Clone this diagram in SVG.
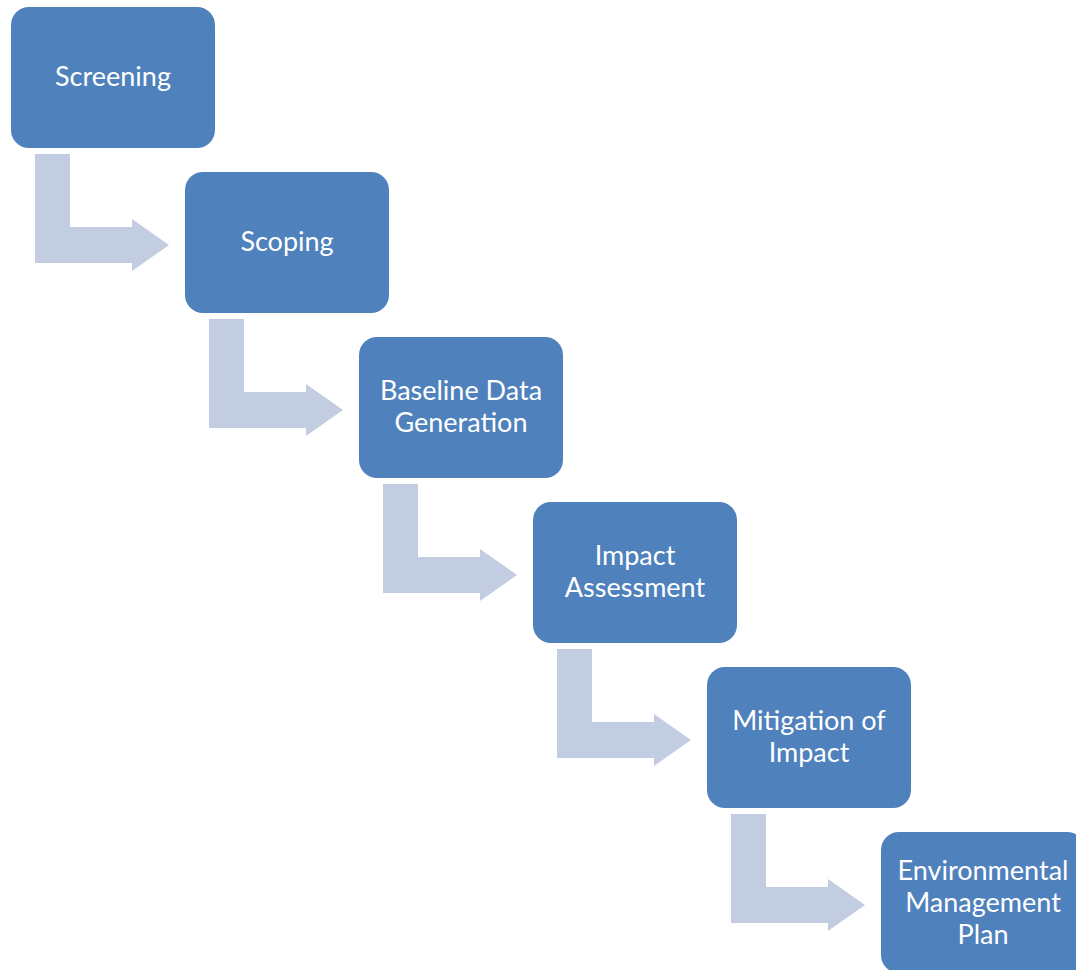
<svg xmlns="http://www.w3.org/2000/svg" width="1076" height="970" viewBox="0 0 1076 970">
<style>
.box{fill:#4F81BD;}
.arr{fill:#C3CDE2;}
.t{font-family:Lato,"Open Sans","Liberation Sans",sans-serif;font-size:27px;fill:#FFFFFF;text-anchor:middle;}
</style>
<defs>
<path id="bend" d="M24,147 H59 V220 H121 V212 L158,238 L121,264 V256 H24 Z"/>
</defs>
<rect width="1076" height="970" fill="#FFFFFF"/>
<g id="connectors">
<use href="#bend" class="arr" transform="translate(11,7)"/>
<use href="#bend" class="arr" transform="translate(185,172)"/>
<use href="#bend" class="arr" transform="translate(359,337)"/>
<use href="#bend" class="arr" transform="translate(533,502)"/>
<use href="#bend" class="arr" transform="translate(707,667)"/>
</g>
<g id="screening">
<rect class="box" x="11" y="7" width="204" height="141" rx="18"/>
<text class="t" x="113" y="86">Screening</text>
</g>
<g id="scoping">
<rect class="box" x="185" y="172" width="204" height="141" rx="18"/>
<text class="t" x="287" y="251">Scoping</text>
</g>
<g id="baseline">
<rect class="box" x="359" y="337" width="204" height="141" rx="18"/>
<text class="t" x="461" y="400">Baseline Data</text>
<text class="t" x="461" y="432">Generation</text>
</g>
<g id="impact">
<rect class="box" x="533" y="502" width="204" height="141" rx="18"/>
<text class="t" x="635" y="565">Impact</text>
<text class="t" x="635" y="597">Assessment</text>
</g>
<g id="mitigation">
<rect class="box" x="707" y="667" width="204" height="141" rx="18"/>
<text class="t" x="809" y="730">Mitigation of</text>
<text class="t" x="809" y="762">Impact</text>
</g>
<g id="emp">
<rect class="box" x="881" y="832" width="204" height="141" rx="18"/>
<text class="t" x="983" y="880">Environmental</text>
<text class="t" x="983" y="912">Management</text>
<text class="t" x="983" y="944">Plan</text>
</g>
</svg>
